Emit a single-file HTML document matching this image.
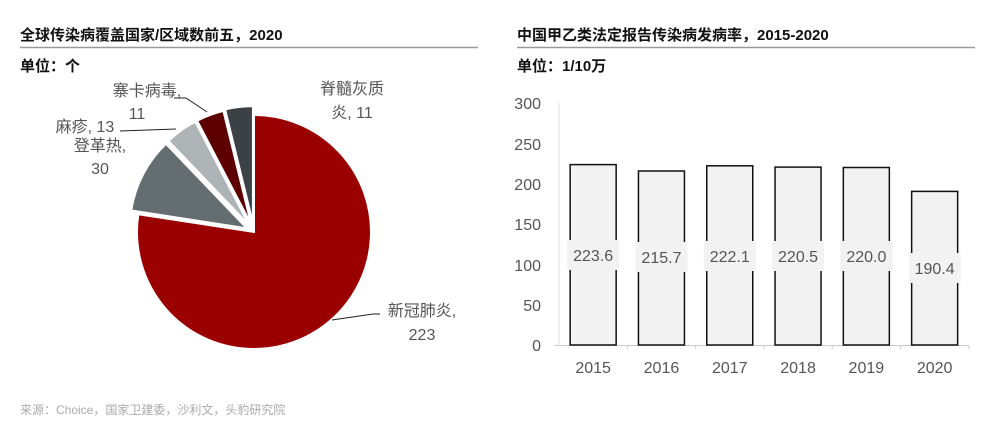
<!DOCTYPE html>
<html><head><meta charset="utf-8"><style>
body{margin:0;background:#fff;width:995px;height:435px;overflow:hidden;font-family:"Liberation Sans","Noto Sans CJK SC",sans-serif;}
</style></head><body>
<svg width="995" height="435" xmlns="http://www.w3.org/2000/svg" font-family="Liberation Sans, Noto Sans CJK SC, sans-serif">
<text x="20" y="40" font-size="15" font-weight="bold" fill="#111">全球传染病覆盖国家/区域数前五，2020</text>
<line x1="20" y1="47.5" x2="478" y2="47.5" stroke="#999" stroke-width="1.5"/>
<text x="20" y="71" font-size="15" font-weight="bold" fill="#111">单位：个</text>
<text x="517" y="40" font-size="15" font-weight="bold" fill="#111">中国甲乙类法定报告传染病发病率，2015-2020</text>
<line x1="517" y1="47.5" x2="975" y2="47.5" stroke="#999" stroke-width="1.5"/>
<text x="517" y="71" font-size="15" font-weight="bold" fill="#111">单位：1/10万</text>
<g id="pie"></g>
<g fill="#555" font-size="16">
<text x="147" y="96" text-anchor="middle">寨卡病毒,</text>
<text x="137" y="119" text-anchor="middle">11</text>
<text x="85" y="132" text-anchor="middle">麻疹, 13</text>
<text x="100" y="151" text-anchor="middle">登革热,</text>
<text x="100" y="174" text-anchor="middle">30</text>
<text x="352" y="94" text-anchor="middle">脊髓灰质</text>
<text x="352" y="118" text-anchor="middle">炎, 11</text>
<text x="422" y="316" text-anchor="middle">新冠肺炎,</text>
<text x="422" y="340" text-anchor="middle">223</text>
</g>
<g stroke="#222" stroke-width="1" fill="none">
<polyline points="174,98 186,98 207,112"/>
<polyline points="120,131 176,129"/>
<polyline points="332,320 373,314 380,314"/>
</g>
<text x="20" y="414" font-size="12" fill="#aaa">来源：Choice，国家卫建委，沙利文，头豹研究院</text>
<g font-size="16" fill="#555">
<text x="541" y="109" text-anchor="end">300</text>
<text x="541" y="150" text-anchor="end">250</text>
<text x="541" y="190" text-anchor="end">200</text>
<text x="541" y="230" text-anchor="end">150</text>
<text x="541" y="271" text-anchor="end">100</text>
<text x="541" y="311" text-anchor="end">50</text>
<text x="541" y="351" text-anchor="end">0</text>
<line x1="559" y1="103" x2="559" y2="345" stroke="#ddd"/>
<line x1="554" y1="345.5" x2="969" y2="345.5" stroke="#ccc"/>
<g stroke="#ccc"><line x1="627.3" y1="345" x2="627.3" y2="349"/><line x1="695.6" y1="345" x2="695.6" y2="349"/><line x1="763.9" y1="345" x2="763.9" y2="349"/><line x1="832.2" y1="345" x2="832.2" y2="349"/><line x1="900.5" y1="345" x2="900.5" y2="349"/><line x1="968.8" y1="345" x2="968.8" y2="349"/></g>
<g fill="#f2f2f2" stroke="#111" stroke-width="1.5">
<rect x="570.15" y="164.6" width="46" height="180.4"/>
<rect x="638.45" y="171.0" width="46" height="174"/>
<rect x="706.75" y="165.8" width="46" height="179.2"/>
<rect x="775.05" y="167.1" width="46" height="177.9"/>
<rect x="843.35" y="167.5" width="46" height="177.5"/>
<rect x="911.65" y="191.4" width="46" height="153.6"/>
</g>
<g fill="#f2f2f2">
<rect x="567.15" y="240" width="52" height="30"/>
<rect x="635.45" y="242" width="52" height="30"/>
<rect x="703.75" y="241" width="52" height="30"/>
<rect x="772.05" y="241" width="52" height="30"/>
<rect x="840.35" y="241" width="52" height="30"/>
<rect x="908.65" y="253" width="52" height="30"/>
</g>
<g text-anchor="middle">
<text x="593.15" y="261">223.6</text>
<text x="661.45" y="263">215.7</text>
<text x="729.75" y="262">222.1</text>
<text x="798.05" y="262">220.5</text>
<text x="866.35" y="262">220.0</text>
<text x="934.65" y="274">190.4</text>
<text x="593.15" y="373">2015</text>
<text x="661.45" y="373">2016</text>
<text x="729.75" y="373">2017</text>
<text x="798.05" y="373">2018</text>
<text x="866.35" y="373">2019</text>
<text x="934.65" y="373">2020</text>
</g>
</g>
</svg>
<script>
var cx=254,cy=232,r=117,tot=288;
var data=[[223,"#9b0000",0],[30,"#646e71",8],[13,"#aeb3b5",8],[11,"#5c0000",8],[11,"#3b4144",9]];
var a=0,s="";
data.forEach(function(d){
 var a0=a,a1=a+d[0]/tot*2*Math.PI;a=a1;
 var m=(a0+a1)/2,ox=cx+d[2]*Math.sin(m),oy=cy-d[2]*Math.cos(m);
 var x0=ox+r*Math.sin(a0),y0=oy-r*Math.cos(a0),x1=ox+r*Math.sin(a1),y1=oy-r*Math.cos(a1);
 s+='<path d="M'+ox+','+oy+'L'+x0+','+y0+'A'+r+','+r+' 0 '+((a1-a0)>Math.PI?1:0)+' 1 '+x1+','+y1+'Z" fill="'+d[1]+'" stroke="#fff" stroke-width="2"/>';
});
document.getElementById('pie').innerHTML=s;
</script>
</body></html>
